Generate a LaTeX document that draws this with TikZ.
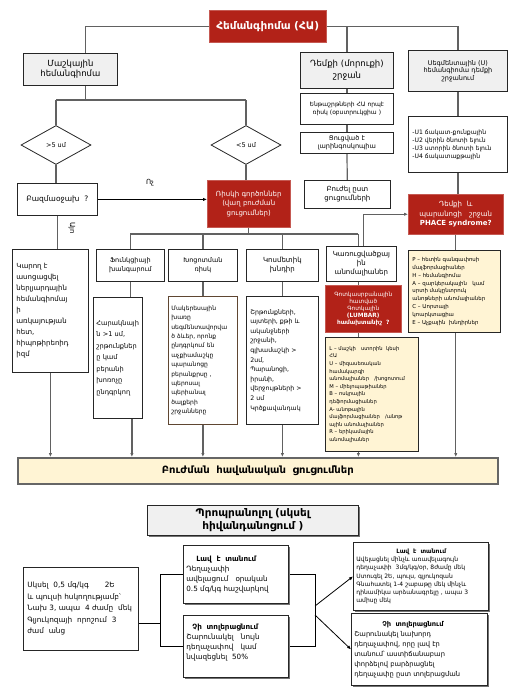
\documentclass[tikz,border=0pt]{standalone}
\usepackage{fontspec}
\setmainfont{DejaVu Sans}
\usetikzlibrary{arrows.meta,shapes.geometric,shadows,backgrounds}
\definecolor{hred}{RGB}{178,34,24}
\definecolor{cream}{RGB}{255,244,212}
\definecolor{lgray}{RGB}{240,240,240}
\definecolor{brn}{RGB}{95,70,50}
\newcommand{\fsz}[2]{\fontsize{#1}{#2}\selectfont}
\begin{document}
\begin{tikzpicture}[x=1pt,y=-1pt,
  bx/.style={draw=black!85, line width=0.8pt, fill=white, inner sep=2pt, align=center, anchor=north west},
  gb/.style={bx, fill=lgray},
  rb/.style={bx, fill=hred, draw=hred!75, line width=0.5pt, text=white},
  yb/.style={bx, fill=cream},
  lb/.style={align=left, inner xsep=4pt},
  shd/.style={drop shadow={shadow xshift=1.6pt, shadow yshift=-1.6pt, fill=black!55, opacity=1}},
  conn/.style={draw=black!62, line width=1.2pt},
  thinl/.style={draw=black, line width=0.8pt},
  arr/.style={-{Latex[length=4pt,width=3.4pt]}},
  dia/.style={diamond, draw=black!85, line width=0.8pt, fill=white, inner sep=0pt, minimum width=70pt, minimum height=39pt, font=\fsz{6.5}{8}}
]
\useasboundingbox (0,0) rectangle (519,694);

% top
\node[rb, minimum width=117pt, minimum height=32pt, text width=113pt, font=\bfseries\fsz{10.5}{12}] (title) at (209,10) {Հեմանգիոմա (ՀԱ)};
\node[gb, minimum width=94pt, minimum height=32pt, text width=90pt, font=\fsz{8.5}{10.5}] (mash) at (23,53) {Մաշկային\\հեմանգիոմա};
\node[gb, minimum width=93pt, minimum height=36pt, text width=89pt, font=\fsz{8.5}{12}] (dem) at (300,52) {Դեմքի (մորուքի)\\շրջան};
\node[gb, minimum width=99pt, minimum height=41pt, text width=95pt, font=\fsz{6.5}{7.5}] (seg) at (408,50) {Սեգմենտային (Ս)\\հեմանգիոմա դեմքի\\շրջանում};
\node[bx, minimum width=93pt, minimum height=31pt, text width=89pt, font=\fsz{6}{8.5}] (ent) at (300,93) {Ենթաշրթների ՀԱ որպէ\\ռիսկ (օբստրուկցիա )};
\node[bx, minimum width=93pt, minimum height=21pt, text width=89pt, font=\fsz{6.5}{7.5}] (lar) at (300,132) {Ցուցված է\\լարինգոսկոպիա};
\node[bx, minimum width=86pt, minimum height=28pt, text width=82pt, font=\fsz{7}{9}] (buzh) at (304,180) {Բուժել ըստ\\ցուցումների};
\node[bx, lb, minimum width=99pt, minimum height=56pt, text width=91pt, font=\fsz{6.1}{8}] (seglist) at (408,116) {-Ս1 ճակատ-քունքային\\-Ս2 վերին ծնոտի ելուն\\-Ս3 ստորին ծնոտի ելուն\\-Ս4 ճակատաքթային};
\node[rb, minimum width=95pt, minimum height=40pt, text width=91pt, font=\fsz{7}{9.5}] (phace) at (408,194) {Դեմքի\ \ և\\պարանոցի\ \ \ շրջան\\\textbf{PHACE syndrome?}};

% left branch
\node[dia] (d1) at (56,145) {>5 սմ};
\node[dia] (d2) at (246,145) {<5 սմ};
\node[bx, minimum width=80pt, minimum height=32pt, text width=76pt, font=\fsz{7.5}{9}] (baz) at (17,183) {Բազմաօջախ\ \ ?};
\node[rb, minimum width=83pt, minimum height=47pt, text width=79pt, font=\fsz{7}{9.5}] (risk) at (207,180) {Ռիսկի գործոններ\\(վաղ բուժման\\ցուցումներ)};
\node[font=\fsz{7}{8}] (no) at (150,183) {Ոչ};
\node[font=\fsz{7}{8}, rotate=-90] (yes) at (72,228) {Այո};

\node[bx, lb, minimum width=76pt, minimum height=123pt, text width=68pt, font=\fsz{7}{11}] (kar) at (12,249) {Կարող է\\ասոցացվել\\ներլյարդային\\հեմանգիոմայ\\ի\\առկայության\\հետ,\\հիպոթիրեոիդ\\իզմ};
\node[bx, minimum width=68pt, minimum height=32pt, text width=64pt, font=\fsz{6.5}{8.5}] (func) at (96,249) {Ֆունկցիայի\\խանգարում};
\node[bx, minimum width=69pt, minimum height=32pt, text width=65pt, font=\fsz{6.5}{8.5}] (khoc) at (168,249) {Խոցոտման\\ռիսկ};
\node[bx, minimum width=72pt, minimum height=32pt, text width=68pt, font=\fsz{7}{9}] (kosm) at (246,249) {Կոսմետիկ\\խնդիր};
\node[bx, minimum width=70pt, minimum height=35pt, text width=66pt, font=\fsz{7}{9}] (karuc) at (326,246) {Կառուցվածքայ\\ին\\անոմալիաներ};

\node[bx, lb, minimum width=49pt, minimum height=121pt, text width=43pt, inner xsep=3pt, font=\fsz{6.6}{11.5}] (har) at (93,297) {Հարակնայի\\ն >1 սմ,\\շրթունքներ\\ը կամ\\բերանի\\խոռոչը\\ընդգրկող};
\node[bx, lb, draw=brn, minimum width=69pt, minimum height=128pt, text width=63pt, inner xsep=3pt, font=\fsz{6}{9.4}] (khocd) at (168,296) {Մակերեսային\\խառը\\սեգմենտավորվա\\ծ ձևեր, որոնք\\ընդգրկում են\\աչքիամաշկը\\պարանոցը\\բերանքրսը ,\\պերոսալ\\պերիանալ\\ծալքերի\\շրջանները};
\node[bx, lb, minimum width=72pt, minimum height=128pt, text width=64pt, font=\fsz{6.2}{9.6}] (kosmd) at (246,296) {Շրթունքների,\\այտերի, քթի և\\ականջների\\շրջանի,\\գլխամաշկի >\\2սմ,\\Պարանոցի,\\իրանի,\\վերջույթների >\\2 սմ\\Կրծքավանդակ};
\node[rb, minimum width=76pt, minimum height=47pt, text width=72pt, font=\fsz{5.8}{7}] (lq) at (325,285) {Գոտկասրբանային\\հատված\\Գոտկային\\\textbf{(LUMBAR)}\\\textbf{համախտանիշ\ \ ?}};
\node[yb, lb, minimum width=93pt, minimum height=114pt, text width=85pt, font=\fsz{5.2}{7.6}] (lumb) at (325,337) {L – մաշկի\ \ \ ստորին\ \ կեսի\\ՀԱ\\U – միզասեռական\\համակարգի\\անոմալիաներ\ \ \ /խոցոտում\\M – միելոպաթիաներ\\B – ոսկրային\\դեֆորմացիաներ\\A- անոթային\\մալֆորմացիաներ\ \ \ /անոթ\\ային\ անոմալիաներ\\R – երիկամային\\անոմալիաներ};
\node[yb, lb, minimum width=92pt, minimum height=82pt, text width=84pt, font=\fsz{5.4}{7.8}] (phacelist) at (408,250) {P – հետին գանգափոսի\\մալֆորմացիաներ\\H – հեմանգիոմա\\A – զարկերակային\ \ \ կամ\\սրտի մակընտրուկ\\անոթների անոմալիաներ\\C – Աորտայի\\կոարկտացիա\\E – Աչքային\ \ խնդիրներ};

\node[yb, draw=black!60, line width=1.6pt, minimum width=480pt, minimum height=26pt, text width=476pt, font=\bfseries\fsz{10}{12}] (final) at (17,457) {Բուժման\ \ հավանական\ \ ցուցումներ};

% bottom
\node[gb, shd, minimum width=211pt, minimum height=30pt, text width=207pt, font=\bfseries\fsz{10.5}{13}] (prop) at (147,505) {Պրոպրանոլոլ (սկսել\\հիվանդանոցում )};
\node[bx, lb, minimum width=115pt, minimum height=83pt, text width=107pt, inner xsep=4pt, font=\fsz{7.3}{11.5}] (left) at (23,567) {Սկսել\ \ 0,5 մգ/կգ\hspace{16pt}2Ե\\և պուլսի հսկողությամբ՝\\Նախ 3, ապա\ \ 4 ժամը\ \ մեկ\\Գլյուկոզայի\ \ որոշում\ \ 3\\ժամ\ \ անց};
\node[bx, lb, shd, minimum width=105pt, minimum height=58pt, text width=99pt, inner xsep=3pt, font=\fsz{7.2}{10}] (good) at (183,545) {\hspace*{10pt}\textbf{Լավ\ \ է\ \ տանում}\\Դեղաչափի\\ավելացում\ \ \ օրական\\0.5 մգ/կգ հաշվարկով};
\node[bx, lb, shd, minimum width=105pt, minimum height=62pt, text width=99pt, inner xsep=3pt, font=\fsz{7.2}{10}] (bad) at (183,615) {\hspace*{6pt}\textbf{Չի\ \ տոլերացնում}\\Շարունակել\ \ \ նույն\\դեղաչափով\ \ \ կամ\\նվազեցնել\ \ 50\%\\\mbox{}};
\node[bx, lb, shd, minimum width=135pt, minimum height=68pt, text width=129pt, inner xsep=3pt, font=\fsz{6}{8.2}] (gr) at (353,542) {\hspace*{40pt}\textbf{Լավ\ \ է\ \ տանում}\\Ավելացնել մինչև առավելագույն\\դեղաչափի\ \ 3մգ/կգ/օր, 8ժամը մեկ\\Ստուգել 2Ե, պուլս, գլյուկոզան\\Գնահատել 1-4 շաբաթը մեկ մինչև\\դինամիկա արձանագրելը , ապա 3\\ամիսը մեկ};
\node[bx, lb, shd, minimum width=136pt, minimum height=72pt, text width=130pt, inner xsep=3pt, font=\fsz{6.7}{10}] (br) at (351,613) {\hspace*{28pt}\textbf{Չի\ \ տոլերացնում}\\Շարունակել նախորդ\\դեղաչափով, որը լավ էր\\տանում՝ աստիճանաբար\\փորձելով բարձրացնել\\դեղաչափը ըստ տոլերացման};

\coordinate (bus) at (0,234);
\coordinate (m1) at (0,100);
\coordinate (kx) at ([xshift=-3pt]karuc.north);
\coordinate (ky) at ([xshift=2pt]karuc.north);
\coordinate (j1) at (160,623);
\coordinate (j2) at (315,606);
\coordinate (j3) at (315,615);
\coordinate (jx) at (315,0);

\begin{scope}[on background layer]
  \fill[white] (0,0) rectangle (519,694);
  \draw[conn] (title.west) -| ([xshift=15pt]mash.north);
  \draw[conn] (title.east) -| (seg.north);
  \draw[conn] (title.east -| dem.north) -- (dem.north);
  \draw[conn] ([xshift=15pt]mash.south) -- ([xshift=15pt]mash.south |- m1);
  \draw[conn] (d1.north |- m1) -- (d2.north |- m1);
  \draw[conn] (d1.north |- m1) -- (d1.north);
  \draw[conn] (d2.north |- m1) -- (d2.north);
  \draw[conn] (d1.south) -- (d1.south |- baz.north);
  \draw[conn] (d2.south) -- (d2.south |- risk.north);
  \draw[conn] (baz.south) -- (baz.south |- kar.north);
  \draw[thinl, arr] (baz.east) -- (baz.east -| risk.west);
  \draw[conn] (dem) -- (ent);
  \draw[conn] (ent) -- (lar);
  \draw[conn] (lar) -- (buzh);
  \draw[conn] (seg.south) -- (seg.south |- seglist.north);
  \draw[conn] (seglist.south) -- (seglist.south |- phace.north);
  \draw[conn] (phace.south) -- (phace.south |- phacelist.north);
  \draw[conn, arr] (phace.south |- phacelist.south) -- (phace.south |- final.north);
  \draw[conn, arr] (ky) |- (phace.west);
  \draw[conn] (risk.south) -- (risk.south |- bus);
  \draw[conn] (func.north |- bus) -- (kx |- bus);
  \draw[conn] (func.north |- bus) -- (func.north);
  \draw[conn] (khoc.north |- bus) -- (khoc.north);
  \draw[conn] (kosm.north |- bus) -- (kosm.north);
  \draw[conn] (kx |- bus) -- (kx);
  \draw[conn] (func.south) -- (func.south |- har.north);
  \draw[conn] (khoc.south) -- (khocd.north);
  \draw[conn] (kosm.south) -- (kosmd.north);
  \draw[conn] (kx |- karuc.south) -- (kx |- lq.north);
  \draw[conn] (kx |- lq.south) -- (kx |- lumb.north);
  \draw[conn, arr] (kx |- lumb.south) -- (kx |- final.north);
  \draw[conn, arr] (kar.south) -- (kar.south |- final.north);
  \draw[conn, arr] ([xshift=14pt]har.south) -- ([xshift=14pt]har.south |- final.north);
  \draw[conn, arr] (khocd.south) -- (khocd.south |- final.north);
  \draw[conn, arr] (kosmd.south) -- (kosmd.south |- final.north);
  % bottom
  \draw[thinl] (left.east |- j1) -- (j1);
  \draw[thinl] (good.west) -- (good.west -| j1) -- (bad.west -| j1) -- (bad.west);
  \draw[thinl] (good.east) -- (good.east -| jx) -- (bad.east -| jx) -- (bad.east);
  \draw[thinl, arr] (j2) -- (gr.west);
  \draw[thinl, arr] (j3) -- (br.west);
\end{scope}
\end{tikzpicture}
\end{document}
